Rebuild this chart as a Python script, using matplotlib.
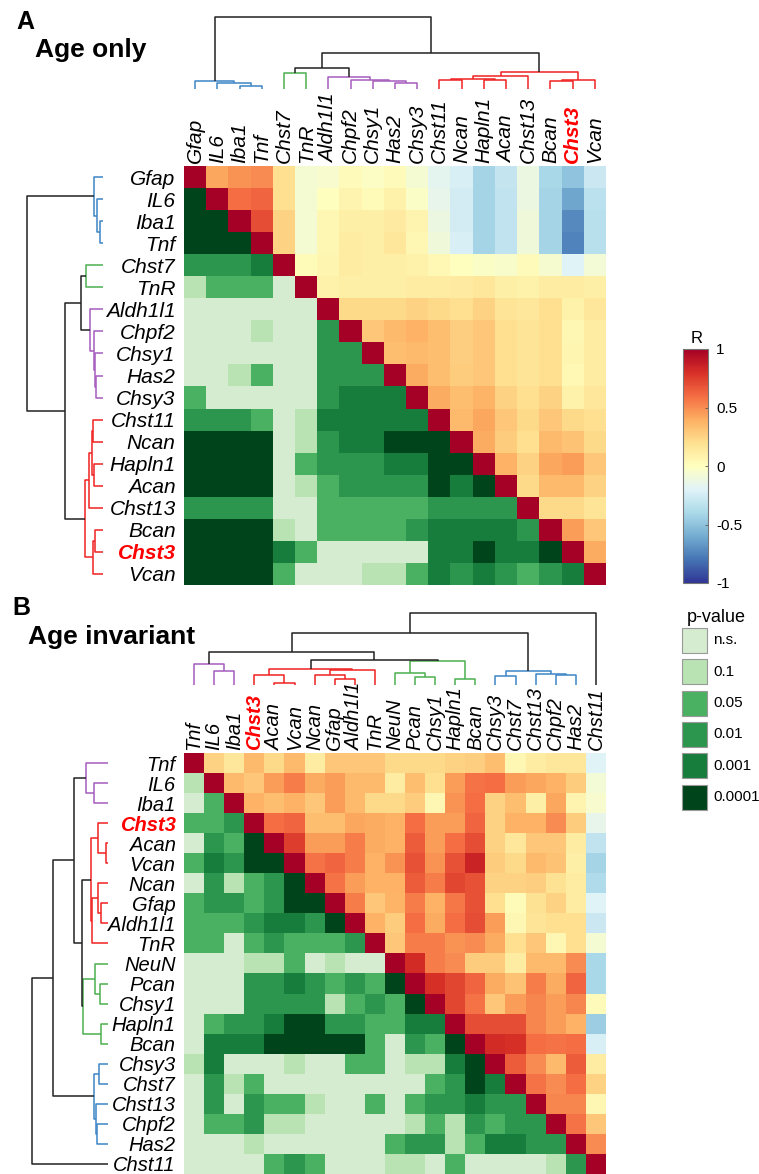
import numpy as np
import matplotlib
matplotlib.use("Agg")
import matplotlib.pyplot as plt
from matplotlib.colors import ListedColormap, BoundaryNorm, Normalize
from matplotlib.cm import ScalarMappable
from matplotlib.patches import Rectangle

plt.rcParams['font.family'] = ['Liberation Sans', 'DejaVu Sans']

W, H = 759, 1174

# ---------------- data: panel A (age only) ----------------
genes_a = ['Gfap', 'IL6', 'Iba1', 'Tnf', 'Chst7', 'TnR', 'Aldh1l1', 'Chpf2', 'Chsy1',
           'Has2', 'Chsy3', 'Chst11', 'Ncan', 'Hapln1', 'Acan', 'Chst13', 'Bcan',
           'Chst3', 'Vcan']

# correlation R, upper triangle (row i, columns i+1..n-1)
r_upper_a = [
    [0.42, 0.48, 0.5, 0.2, -0.07, -0.05, 0.02, -0.02, 0.02, -0.07, -0.17, -0.22, -0.42, -0.3, -0.12, -0.4, -0.5, -0.28],
    [0.6, 0.62, 0.2, -0.07, 0.0, 0.07, 0.03, 0.08, -0.03, -0.15, -0.25, -0.42, -0.32, -0.12, -0.42, -0.62, -0.33],
    [0.7, 0.25, -0.07, 0.05, 0.1, 0.1, 0.13, 0.07, -0.12, -0.25, -0.42, -0.32, -0.1, -0.42, -0.72, -0.35],
    [0.25, -0.07, 0.05, 0.12, 0.1, 0.15, 0.05, -0.1, -0.22, -0.42, -0.32, -0.1, -0.42, -0.75, -0.35],
    [0.03, 0.06, 0.12, 0.1, 0.1, 0.08, 0.04, 0.0, -0.03, -0.04, 0.02, -0.06, -0.2, -0.08],
    [0.08, 0.1, 0.1, 0.1, 0.12, 0.12, 0.13, 0.15, 0.1, 0.08, 0.12, 0.12, 0.1],
    [0.22, 0.22, 0.22, 0.25, 0.22, 0.2, 0.25, 0.17, 0.15, 0.2, 0.08, 0.15],
    [0.3, 0.35, 0.38, 0.33, 0.27, 0.3, 0.2, 0.17, 0.2, 0.05, 0.12],
    [0.33, 0.35, 0.33, 0.27, 0.3, 0.2, 0.17, 0.2, 0.06, 0.12],
    [0.4, 0.33, 0.28, 0.3, 0.2, 0.17, 0.2, 0.04, 0.12],
    [0.4, 0.33, 0.37, 0.25, 0.2, 0.25, 0.08, 0.15],
    [0.35, 0.42, 0.3, 0.22, 0.3, 0.22, 0.2],
    [0.4, 0.28, 0.2, 0.35, 0.32, 0.22],
    [0.38, 0.25, 0.42, 0.45, 0.3],
    [0.22, 0.35, 0.35, 0.25],
    [0.22, 0.22, 0.17],
    [0.45, 0.3],
    [0.4],
]

# p-value class, lower triangle (0=n.s., 1=0.1, 2=0.05, 3=0.01, 4=0.001, 5=0.0001)
p_lower_a = [
    [5],
    [5, 5],
    [5, 5, 5],
    [3, 3, 3, 4],
    [1, 2, 2, 2, 0],
    [0, 0, 0, 0, 0, 0],
    [0, 0, 0, 1, 0, 0, 3],
    [0, 0, 0, 0, 0, 0, 3, 3],
    [0, 0, 1, 2, 0, 0, 3, 3, 3],
    [2, 0, 0, 0, 0, 0, 3, 4, 4, 4],
    [3, 3, 3, 2, 0, 1, 4, 4, 4, 4, 4],
    [5, 5, 5, 5, 0, 1, 3, 4, 4, 5, 5, 5],
    [5, 5, 5, 5, 0, 2, 3, 3, 3, 4, 4, 5, 5],
    [5, 5, 5, 5, 0, 1, 2, 3, 3, 3, 3, 5, 4, 5],
    [3, 3, 3, 3, 0, 0, 2, 2, 2, 2, 2, 3, 3, 3, 3],
    [5, 5, 5, 5, 1, 0, 2, 2, 2, 2, 3, 4, 4, 4, 4, 3],
    [5, 5, 5, 5, 4, 2, 0, 0, 0, 0, 0, 4, 4, 5, 4, 4, 5],
    [5, 5, 5, 5, 2, 0, 0, 0, 1, 1, 2, 4, 3, 4, 3, 2, 3, 4],
]

# clustering merges: (child a, child b, height, colour key); ids >= n are earlier merges
merges_a = [
    (2, 3, 3, 'blue'), (1, 19, 6, 'blue'), (0, 20, 8.5, 'blue'),
    (4, 5, 16.5, 'green'),
    (9, 10, 6.5, 'purple'), (8, 23, 8, 'purple'), (7, 24, 9, 'purple'), (6, 25, 12, 'purple'),
    (22, 26, 21, 'k'),
    (11, 12, 9.5, 'red'), (13, 14, 9, 'red'), (28, 29, 10.5, 'red'), (30, 15, 13, 'red'),
    (16, 17, 8, 'red'), (32, 18, 9.5, 'red'), (31, 33, 17.5, 'red'),
    (27, 34, 36, 'k'), (21, 35, 72.5, 'k'),
]

# ---------------- data: panel B (age invariant) ----------------
genes_b = ['Tnf', 'IL6', 'Iba1', 'Chst3', 'Acan', 'Vcan', 'Ncan', 'Gfap', 'Aldh1l1', 'TnR',
           'NeuN', 'Pcan', 'Chsy1', 'Hapln1', 'Bcan', 'Chsy3', 'Chst7', 'Chst13', 'Chpf2',
           'Has2', 'Chst11']

r_upper_b = [
    [0.25, 0.15, 0.35, 0.22, 0.35, 0.12, 0.3, 0.3, 0.3, 0.22, 0.22, 0.22, 0.25, 0.27, 0.33, 0.05, 0.12, 0.15, 0.15, -0.2],
    [0.35, 0.3, 0.45, 0.55, 0.4, 0.45, 0.35, 0.35, 0.12, 0.33, 0.2, 0.45, 0.58, 0.6, 0.45, 0.42, 0.38, 0.28, -0.08],
    [0.38, 0.33, 0.38, 0.3, 0.45, 0.35, 0.22, 0.22, 0.28, 0.05, 0.48, 0.6, 0.25, 0.33, 0.1, 0.42, 0.07, -0.05],
    [0.6, 0.62, 0.33, 0.33, 0.42, 0.4, 0.38, 0.6, 0.45, 0.45, 0.62, 0.25, 0.38, 0.38, 0.5, 0.28, -0.15],
    [0.75, 0.45, 0.45, 0.55, 0.4, 0.38, 0.65, 0.45, 0.6, 0.7, 0.25, 0.15, 0.3, 0.3, 0.12, -0.32],
    [0.58, 0.62, 0.55, 0.38, 0.48, 0.68, 0.48, 0.68, 0.85, 0.28, 0.22, 0.35, 0.32, 0.1, -0.42],
    [0.58, 0.45, 0.38, 0.38, 0.65, 0.55, 0.72, 0.68, 0.25, 0.25, 0.27, 0.18, 0.12, -0.38],
    [0.55, 0.3, 0.37, 0.55, 0.38, 0.57, 0.68, 0.2, 0.03, 0.18, 0.25, 0.12, -0.2],
    [0.38, 0.28, 0.6, 0.4, 0.6, 0.7, 0.45, 0.05, 0.17, 0.2, 0.2, -0.28],
    [0.3, 0.55, 0.55, 0.48, 0.5, 0.4, 0.2, 0.3, 0.05, 0.2, -0.07],
    [0.82, 0.55, 0.5, 0.28, 0.28, 0.12, 0.35, 0.35, 0.5, -0.4],
    [0.8, 0.72, 0.62, 0.4, 0.32, 0.55, 0.4, 0.62, -0.4],
    [0.72, 0.58, 0.3, 0.45, 0.52, 0.45, 0.52, 0.02],
    [0.7, 0.7, 0.7, 0.52, 0.45, 0.38, -0.45],
    [0.82, 0.8, 0.6, 0.58, 0.6, -0.22],
    [0.65, 0.5, 0.35, 0.65, 0.12],
    [0.58, 0.5, 0.6, 0.25],
    [0.52, 0.52, 0.05],
    [0.58, 0.3],
    [0.5],
]

p_lower_b = [
    [1],
    [0, 2],
    [2, 2, 3],
    [0, 3, 2, 5],
    [2, 4, 3, 5, 5],
    [0, 3, 1, 2, 3, 5],
    [2, 3, 3, 2, 3, 5, 5],
    [2, 2, 2, 3, 4, 4, 3, 5],
    [2, 2, 0, 2, 3, 2, 2, 2, 3],
    [0, 0, 0, 1, 1, 2, 0, 1, 0, 0],
    [0, 0, 0, 3, 3, 4, 3, 2, 3, 2, 5],
    [0, 0, 0, 3, 3, 3, 3, 1, 2, 3, 2, 5],
    [0, 2, 3, 3, 4, 5, 5, 3, 3, 2, 2, 4, 4],
    [0, 4, 4, 4, 5, 5, 5, 5, 5, 2, 0, 3, 2, 5],
    [1, 4, 0, 0, 0, 1, 0, 0, 2, 2, 0, 1, 1, 4, 5],
    [0, 3, 1, 2, 0, 0, 0, 0, 0, 0, 0, 0, 2, 3, 5, 4],
    [0, 3, 0, 3, 2, 2, 1, 0, 0, 2, 0, 2, 3, 3, 4, 3, 3],
    [0, 2, 2, 3, 1, 1, 0, 0, 0, 0, 0, 1, 2, 1, 3, 2, 3, 3],
    [0, 0, 0, 1, 0, 0, 0, 0, 0, 0, 2, 3, 3, 1, 2, 4, 4, 3, 3],
    [0, 0, 0, 0, 2, 3, 2, 0, 0, 0, 1, 1, 0, 2, 0, 0, 0, 0, 1, 3],
]

merges_b = [
    (1, 2, 13.7, 'purple'), (0, 21, 21.3, 'purple'),
    (4, 5, 2.3, 'red'), (3, 23, 9.7, 'red'), (7, 8, 6.3, 'red'), (6, 25, 9.7, 'red'),
    (26, 9, 14.7, 'red'), (24, 27, 16, 'red'),
    (11, 12, 8, 'green'), (10, 29, 12.3, 'green'), (13, 14, 6.3, 'green'), (30, 31, 24, 'green'),
    (28, 32, 24.7, 'k'), (22, 33, 32.7, 'k'),
    (15, 16, 9, 'blue'), (18, 19, 10, 'blue'), (17, 36, 11, 'blue'), (35, 37, 13.7, 'blue'),
    (34, 38, 51.7, 'k'), (39, 20, 72.3, 'k'),
]

p_labels = ['n.s.', '0.1', '0.05', '0.01', '0.001', '0.0001']
p_colors = ['#d5ecd0', '#b9e3b3', '#4ab062', '#2d964e', '#177d3c', '#00441b']
link_colors = {'blue': '#3d85c6', 'green': '#4caf50', 'purple': '#a65cbd',
               'red': '#f02020', 'k': '#222222'}


def full_matrices(r_upper, p_lower):
    n = len(r_upper) + 1
    r = np.full((n, n), np.nan)
    p = np.full((n, n), np.nan)
    for i in range(n):
        r[i, i] = 1.0
    for i, row in enumerate(r_upper):
        r[i, i + 1:] = row
    for i, row in enumerate(p_lower):
        p[i + 1, :i + 1] = row
    return r, p


def px_axes(fig, x0, y0, x1, y1):
    return fig.add_axes([x0 / W, 1 - y1 / H, (x1 - x0) / W, (y1 - y0) / H])


p_cmap = ListedColormap(p_colors)
p_norm = BoundaryNorm(np.arange(-0.5, 6.5, 1), 6)
r_cmap = plt.get_cmap('RdYlBu_r')
r_norm = Normalize(-1, 1)


def heatmap(ax, genes, r_upper, p_lower, fsize, lpad):
    r, p = full_matrices(r_upper, p_lower)
    n = len(genes)
    ax.imshow(np.ma.masked_invalid(r), cmap=r_cmap, norm=r_norm, aspect='auto',
              interpolation='nearest')
    ax.imshow(np.ma.masked_invalid(p), cmap=p_cmap, norm=p_norm, aspect='auto',
              interpolation='nearest')
    ax.set_xlim(-0.5, n - 0.5)
    ax.set_ylim(n - 0.5, -0.5)
    ax.xaxis.tick_top()
    ax.set_xticks(np.arange(n))
    ax.set_yticks(np.arange(n))
    ax.set_xticklabels(genes, rotation=90, fontsize=fsize, fontstyle='italic')
    ax.set_yticklabels(genes, fontsize=fsize, fontstyle='italic')
    ax.tick_params(length=0, pad=lpad)
    ax.tick_params(axis='x', pad=2)
    for lab in ax.get_xticklabels() + ax.get_yticklabels():
        if lab.get_text() == 'Chst3':
            lab.set_color('#ff0000')
            lab.set_fontweight('bold')
    for s in ax.spines.values():
        s.set_visible(False)


def dendrogram(ax, merges, n, orient, hmax):
    pos = {i: float(i) for i in range(n)}
    hts = {i: 0.0 for i in range(n)}
    for k, (a, b, h, c) in enumerate(merges):
        xa, xb = pos[a], pos[b]
        ha, hb = hts[a], hts[b]
        xs, ys = [xa, xa, xb, xb], [ha, h, h, hb]
        if orient == 'left':
            xs, ys = ys, xs
        ax.plot(xs, ys, color=link_colors[c], lw=1.1, clip_on=False,
                solid_capstyle='butt')
        pos[n + k] = (xa + xb) / 2
        hts[n + k] = h
    if orient == 'top':
        ax.set_xlim(-0.5, n - 0.5)
        ax.set_ylim(0, hmax)
    else:
        ax.set_ylim(n - 0.5, -0.5)
        ax.set_xlim(hmax, 0)
    ax.axis('off')


fig = plt.figure(figsize=(W / 100, H / 100), dpi=100)

# panel A
na = len(genes_a)
ax_a = px_axes(fig, 184, 166, 606, 585)
heatmap(ax_a, genes_a, r_upper_a, p_lower_a, 15, 6)
dendrogram(px_axes(fig, 184, 10, 606, 89), merges_a, na, 'top', 79)
dendrogram(px_axes(fig, 20, 166, 103, 585), merges_a, na, 'left', 83 / 1.05)

# panel B
nb = len(genes_b)
ax_b = px_axes(fig, 184, 753, 606, 1174)
heatmap(ax_b, genes_b, r_upper_b, p_lower_b, 14.5, 6)
dendrogram(px_axes(fig, 184, 600, 606, 685), merges_b, nb, 'top', 85)
dendrogram(px_axes(fig, 25, 753, 108, 1174), merges_b, nb, 'left', 83 / 1.055)

# titles
fig.text(16 / W, 1 - 29 / H, 'A', fontsize=18, fontweight='bold', va='baseline')
fig.text(35 / W, 1 - 57 / H, 'Age only', fontsize=19, fontweight='bold', va='baseline')
fig.text(12 / W, 1 - 615 / H, 'B', fontsize=18, fontweight='bold', va='baseline')
fig.text(28 / W, 1 - 644 / H, 'Age invariant', fontsize=19, fontweight='bold', va='baseline')

# colorbar R
cax = px_axes(fig, 683, 349, 708, 583)
cb = fig.colorbar(ScalarMappable(norm=r_norm, cmap=r_cmap), cax=cax)
cb.set_ticks([-1, -0.5, 0, 0.5, 1])
cb.set_ticklabels(['-1', '-0.5', '0', '0.5', '1'])
cb.ax.tick_params(labelsize=11, length=2, width=0.6, direction='in', pad=6, color='#555555')
cb.outline.set_edgecolor('#777777')
cb.outline.set_linewidth(0.8)
fig.text(697 / W, 1 - 343 / H, 'R', fontsize=12, ha='center', va='baseline')

# p-value legend
lax = px_axes(fig, 670, 600, 759, 815)
lax.set_xlim(670, 759)
lax.set_ylim(815, 600)
lax.axis('off')
lax.text(716, 617, 'p-value', fontsize=13, ha='center', va='center')
for k, (lab, col) in enumerate(zip(p_labels, p_colors)):
    top = 628 + k * 31.3
    lax.add_patch(Rectangle((682, top), 25, 25, facecolor=col, edgecolor='#999999', lw=0.8))
    lax.text(713, top + 12.5, lab, fontsize=11, ha='left', va='center')

fig.savefig('out.png', dpi=100)
